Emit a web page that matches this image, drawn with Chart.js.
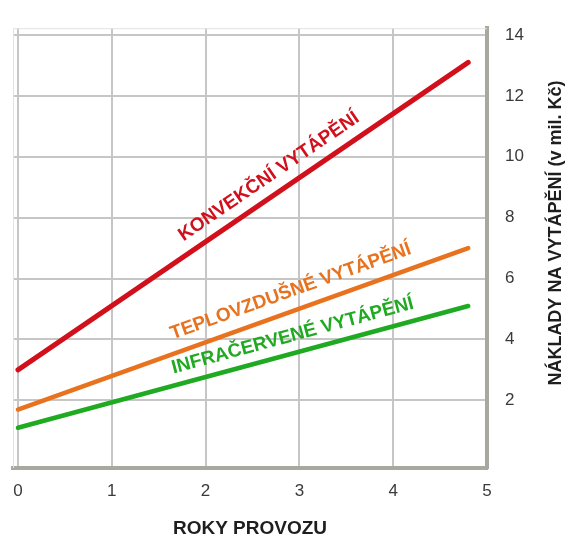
<!DOCTYPE html>
<html>
<head>
<meta charset="utf-8">
<script src="https://cdn.jsdelivr.net/npm/chart.js@4"></script>
<style>
  html, body { margin: 0; padding: 0; background: #fff; }
  #wrap { width: 576px; height: 542px; }
</style>
</head>
<body>
<div id="wrap"><canvas id="naklady" width="576" height="542"></canvas></div>
<script>
// roky provozu (x) a naklady v mil. Kc (y)
const years = [0, 4.8];
const konvekcni = [3.0, 13.1];
const teplovzdusne = [1.7, 7.0];
const infracervene = [1.1, 5.1];
const seriesNames = ['KONVEKČNÍ VYTÁPĚNÍ', 'TEPLOVZDUŠNÉ VYTÁPĚNÍ', 'INFRAČERVENÉ VYTÁPĚNÍ'];
const xTickValues = [0, 1, 2, 3, 4, 5];
const yTickValues = [2, 4, 6, 8, 10, 12, 14];
const xTitle = 'ROKY PROVOZU';
const yTitle = 'NÁKLADY NA VYTÁPĚNÍ (v mil. Kč)';

const colors = ['#d2101c', '#e8721e', '#20aa22'];

function toPoints(values) {
    return years.map((x, i) => ({ x: x, y: values[i] }));
}

// popisky podel car
const lineLabels = {
    id: 'lineLabels',
    afterDatasetsDraw(chart, args, opts) {
        const ctx = chart.ctx;
        chart.data.datasets.forEach((ds, i) => {
            const meta = chart.getDatasetMeta(i);
            const a = meta.data[0], b = meta.data[meta.data.length - 1];
            const dx = b.x - a.x, dy = b.y - a.y;
            const len = Math.sqrt(dx * dx + dy * dy);
            const ux = dx / len, uy = dy / len;
            const pos = opts.positions[i];
            const cx = a.x + ux * len * pos.t + uy * pos.k;
            const cy = a.y + uy * len * pos.t - ux * pos.k;
            ctx.save();
            ctx.translate(cx, cy);
            ctx.rotate(Math.atan2(dy, dx));
            ctx.font = 'bold 19px "Liberation Sans", Arial, sans-serif';
            ctx.fillStyle = ds.borderColor;
            ctx.textAlign = 'center';
            ctx.textBaseline = 'middle';
            ctx.fillText(ds.label, 0, 0);
            ctx.restore();
        });
    }
};

// ramecek a svisly popisek osy y
const frame = {
    id: 'frame',
    beforeDatasetsDraw(chart) {
        const { ctx, chartArea } = chart;
        ctx.save();
        ctx.strokeStyle = '#e2e2e2';
        ctx.lineWidth = 1;
        ctx.beginPath();
        ctx.moveTo(chartArea.left + 0.5, chartArea.bottom);
        ctx.lineTo(chartArea.left + 0.5, chartArea.top + 0.5);
        ctx.lineTo(chartArea.right, chartArea.top + 0.5);
        ctx.stroke();
        ctx.restore();
    },
    afterDraw(chart) {
        const { ctx, chartArea } = chart;
        ctx.save();
        ctx.translate(556, (chartArea.top + chartArea.bottom) / 2 - 15);
        ctx.rotate(-Math.PI / 2);
        ctx.font = 'bold 18px "Liberation Sans", Arial, sans-serif';
        ctx.fillStyle = '#1e1e1e';
        ctx.textAlign = 'center';
        ctx.textBaseline = 'middle';
        ctx.fillText(yTitle, 0, 0);
        ctx.restore();
    }
};

const ctx = document.getElementById('naklady').getContext('2d');
new Chart(ctx, {
    type: 'line',
    data: {
        datasets: [
            { label: seriesNames[0], data: toPoints(konvekcni), borderColor: colors[0], borderWidth: 5 },
            { label: seriesNames[1], data: toPoints(teplovzdusne), borderColor: colors[1], borderWidth: 4.5 },
            { label: seriesNames[2], data: toPoints(infracervene), borderColor: colors[2], borderWidth: 4.5 }
        ]
    },
    options: {
        responsive: false,
        animation: false,
        layout: { padding: { left: 13, top: 15, right: 0, bottom: 0 } },
        elements: {
            point: { radius: 0 },
            line: { tension: 0, borderCapStyle: 'round', fill: false }
        },
        plugins: {
            legend: { display: false },
            tooltip: { enabled: false },
            lineLabels: {
                positions: [
                    { t: 0.58, k: 18 },
                    { t: 0.62, k: 19 },
                    { t: 0.62, k: 17 }
                ]
            }
        },
        scales: {
            x: {
                type: 'linear',
                min: -0.053,
                max: 5,
                afterBuildTicks: (axis) => { axis.ticks = xTickValues.map(v => ({ value: v })); },
                afterFit: (axis) => { axis.height = 74; },
                grid: { color: '#c6c6c6', lineWidth: 2, drawTicks: false },
                border: { display: true, color: '#a8a8a0', width: 4 },
                ticks: {
                    padding: 13,
                    color: '#3a3a3a',
                    font: { size: 17, family: '"Liberation Sans", Arial, sans-serif' }
                },
                title: {
                    display: true,
                    text: xTitle,
                    color: '#1e1e1e',
                    font: { size: 19, weight: 'bold', family: '"Liberation Sans", Arial, sans-serif' },
                    padding: { top: 0, bottom: 2 }
                }
            },
            y: {
                position: 'right',
                min: -0.22,
                max: 14.22,
                afterBuildTicks: (axis) => { axis.ticks = yTickValues.map(v => ({ value: v })); },
                afterFit: (axis) => { axis.width = 89; },
                grid: { color: '#c6c6c6', lineWidth: 2, drawTicks: false },
                border: { display: true, color: '#a8a8a0', width: 4 },
                ticks: {
                    padding: 18,
                    color: '#3a3a3a',
                    font: { size: 17, family: '"Liberation Sans", Arial, sans-serif' }
                }
            }
        }
    },
    plugins: [frame, lineLabels]
});
</script>
</body>
</html>
